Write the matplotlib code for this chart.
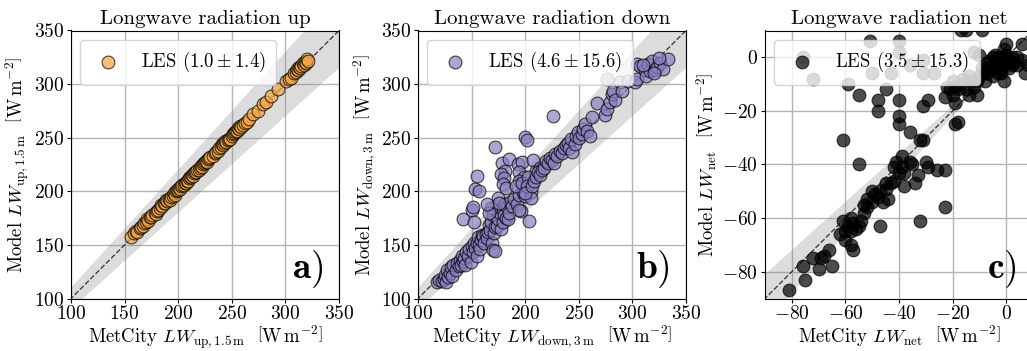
import matplotlib
matplotlib.use("Agg")
import matplotlib.pyplot as plt
import numpy as np

plt.rcParams["font.family"] = "serif"
plt.rcParams["font.serif"] = ["cmr10"]
plt.rcParams["mathtext.fontset"] = "cm"
plt.rcParams["axes.formatter.use_mathtext"] = True
plt.rcParams["axes.unicode_minus"] = True

# a) longwave up (MetCity vs LES)
up_obs = [156, 159, 161, 162, 164, 165, 167, 168, 170, 171,
          172, 174, 175, 176, 178, 179, 180, 181, 183, 184,
          185, 187, 188, 189, 190, 191, 192, 193, 195, 196,
          197, 198, 199, 200, 201, 202, 203, 204, 205, 206,
          207, 208, 209, 210, 211, 212, 213, 214, 215, 216,
          217, 218, 219, 220, 221, 222, 223, 224, 225, 226,
          227, 228, 229, 230, 232, 234, 235, 237, 238, 240,
          241, 242, 243, 244, 245, 246, 247, 248, 250, 251,
          252, 253, 254, 255, 256, 257, 258, 259, 260, 262,
          264, 266, 270, 274, 279, 282, 287, 293, 301, 303,
          305, 308, 310, 311, 312, 313, 314, 315, 316, 317,
          318, 319, 320, 321]
up_les = [157, 161, 163, 162, 166, 167, 168, 170, 171, 174,
          172, 176, 176, 178, 180, 179, 182, 183, 184, 187,
          186, 189, 189, 192, 191, 193, 192, 195, 196, 198,
          197, 200, 201, 201, 203, 202, 205, 206, 206, 208,
          208, 210, 210, 212, 213, 213, 215, 214, 217, 218,
          218, 220, 220, 222, 224, 223, 225, 226, 227, 228,
          227, 230, 231, 232, 233, 236, 237, 238, 240, 241,
          244, 243, 245, 247, 246, 248, 249, 249, 252, 253,
          254, 255, 256, 256, 259, 258, 261, 260, 262, 264,
          265, 267, 272, 275, 281, 283, 289, 295, 303, 305,
          306, 310, 311, 314, 313, 316, 315, 317, 320, 318,
          321, 320, 323, 322]

# b) longwave down
down_obs = [118, 120, 122, 124, 125, 126, 127, 128, 130, 131,
            132, 133, 135, 136, 138, 139, 140, 141, 142, 143,
            144, 145, 147, 148, 149, 150, 151, 152, 153, 155,
            155, 156, 157, 158, 159, 160, 161, 162, 163, 164,
            165, 166, 167, 168, 169, 170, 170, 171, 172, 172,
            173, 174, 175, 175, 176, 177, 178, 179, 180, 181,
            182, 183, 184, 185, 186, 188, 190, 192, 194, 196,
            198, 200,
            142, 150, 151, 152, 153, 155, 157, 172, 178, 181,
            177, 180, 179, 182, 185, 193, 197, 194, 199, 194,
            191, 197, 207, 210, 214, 200, 202, 226, 204, 194,
            203, 205, 205, 202, 200, 168, 176, 166, 164,
            206, 208, 210, 212, 214, 216, 218, 219, 221, 223,
            225, 227, 228, 230, 232, 234, 236, 238, 240, 241,
            243, 244, 246, 247, 249, 250, 253, 254, 256, 258,
            260, 262, 267, 274, 276, 276, 279, 281, 282, 284,
            288, 290, 296, 302, 304, 304, 307, 312, 313, 315,
            316, 318, 321, 323, 326, 329, 333, 320, 310, 325]
down_les = [115, 117, 116, 118, 122, 115, 127, 120, 124, 129,
            121, 131, 127, 133, 130, 136, 131, 140, 135, 138,
            131, 143, 140, 146, 134, 149, 143, 152, 147, 140,
            152, 157, 150, 146, 155, 159, 158, 152, 160, 156,
            162, 169, 164, 171, 152, 145, 178, 161, 167, 144,
            186, 168, 174, 194, 181, 165, 184, 171, 178, 188,
            175, 185, 174, 180, 190, 186, 193, 188, 197, 182,
            199, 196,
            174, 183, 185, 171, 202, 214, 200, 241, 226, 219,
            216, 212, 207, 203, 230, 225, 227, 218, 213, 210,
            205, 208, 229, 219, 222, 251, 248, 270, 172, 183,
            213, 199, 194, 205, 198, 184, 189, 180, 188,
            205, 210, 213, 218, 215, 220, 222, 228, 226, 231,
            229, 226, 235, 233, 238, 236, 240, 243, 245, 240,
            249, 237, 244, 252, 255, 250, 253, 258, 263, 256,
            252, 269, 282, 271, 277, 305, 283, 291, 294, 285,
            302, 294, 303, 302, 305, 319, 317, 313, 308, 319,
            312, 322, 313, 316, 320, 314, 323, 310, 318, 324]

# c) longwave net
net_obs = [-81, -76, -75, -72, -70, -69, -68, -66, -65, -62,
           -61, -60, -60, -59, -58, -58, -57, -58, -57, -56,
           -55, -54, -53, -53, -52, -52, -50, -50, -49, -48,
           -47, -47, -46, -45, -45, -44, -43, -42, -42, -41,
           -40, -39, -39, -38, -38, -36, -35, -34, -33, -32,
           -31, -30, -29, -26, -23, -23, -55, -61,
           -76, -72, -59, -55, -48, -48, -45, -43, -40, -40,
           -40, -36, -32, -31, -29, -50, -51, -40, -40, -36,
           -31, -31, -27, -12, -17, -15, -9, -19, -18, -23,
           -19,
           -21, -22, -20, -19, -17, -15, -14, -11, -13, -10,
           -9, -7, -5, -4, -2, 0, 0, 1, 4, 6,
           6, 7, -7, -4, -2, -1, -5, -11, -14, -8,
           0, -3, -5, -7, 1, 3, 4, -10, -1, -2,
           -6, -3, -8, -16, -12, -18, -20, -2, -4, 2,
           -6, -1, -3, 2, 8, -1]
net_les = [-87, -78, -83, -75, -79, -75, -74, -72, -78, -66,
           -61, -65, -68, -63, -70, -65, -62, -60, -72, -64,
           -63, -61, -58, -55, -56, -53, -50, -54, -51, -52,
           -50, -63, -54, -47, -49, -53, -47, -41, -46, -39,
           -43, -37, -41, -43, -48, -39, -40, -47, -44, -61,
           -31, -39, -41, -42, -42, -56, -40, -31,
           0, -8, -10, -14, -16, -20, -12, -6, -16, -22,
           -25, -28, -31, -18, -16, -6, 6, 6, 2, -3,
           -1, -6, -6, 2, 10, 10, 10, -25, -24, -15,
           -17,
           -12, -11, -9, -11, -10, -12, -14, -14, -9, -7,
           -4, -2, 0, 1, 0, 5, -2, -4, -3, 5,
           -1, -6, -6, -4, -6, -9, -7, -9, -7, -9,
           1, -2, -3, -4, -1, -2, 0, 1, -3, -1,
           -1, -6, -6, -8, -11, -12, -14, -4, -2, -3,
           -4, 0, 0, 0, -3, 3]

panels = [
    (up_obs, up_les, "#f2a443", "Longwave radiation up", r"\mathrm{up,1.5\,m}",
     r"$(1.0\pm1.4)$", (100, 350), [100, 150, 200, 250, 300, 350], "a)"),
    (down_obs, down_les, "#8a80c0", "Longwave radiation down", r"\mathrm{down,3\,m}",
     r"$(4.6\pm15.6)$", (100, 350), [100, 150, 200, 250, 300, 350], "b)"),
    (net_obs, net_les, "black", "Longwave radiation net", r"\mathrm{net}",
     r"$(3.5\pm15.3)$", (-90, 10), [-80, -60, -40, -20, 0], "c)"),
]

unit = r"$\left[\mathrm{W\,m^{-2}}\right]$"

fig = plt.figure(figsize=(10.27, 3.51), dpi=100)
lefts = [71, 418, 765]

for (xo, yl, col, title, sub, stats, lim, ticks, tag), l in zip(panels, lefts):
    ax = fig.add_axes([l / 1027, 52.5 / 351, 268 / 1027, 268 / 351])
    xs = np.linspace(lim[0] - 50, lim[1] + 50, 200)
    ax.fill_between(xs, xs * 0.9, xs * 1.1, color="0.55", alpha=0.3, lw=0, zorder=1)
    ax.plot(xs, xs, ls="--", color="k", lw=1, alpha=0.7, zorder=2)
    ax.scatter(xo, yl, s=85, c=col, edgecolors="k", linewidths=0.8, alpha=0.7,
               zorder=3, label="LES " + stats)
    ax.set_xlim(lim)
    ax.set_ylim(lim)
    ax.set_xticks(ticks)
    ax.set_yticks(ticks)
    ax.grid(True, color="0.7", lw=1, zorder=0)
    ax.set_axisbelow(True)
    ax.tick_params(labelsize=14, length=3, pad=2)
    ax.set_title(title, fontsize=15, pad=5)
    ax.set_xlabel(r"MetCity $LW_{%s}$  " % sub + unit, fontsize=13.5, labelpad=0)
    ax.set_ylabel(r"Model $LW_{%s}$  " % sub + unit, fontsize=13.5, labelpad=2)
    ax.legend(loc="upper left", fontsize=13.5, handlelength=1.8, handletextpad=0.9,
              borderpad=0.55, borderaxespad=0.5)
    ax.text(0.94, 0.03, r"$\mathbf{%s}$" % tag, transform=ax.transAxes,
            ha="right", va="bottom", fontsize=27)

fig.savefig("out.png", dpi=100)
